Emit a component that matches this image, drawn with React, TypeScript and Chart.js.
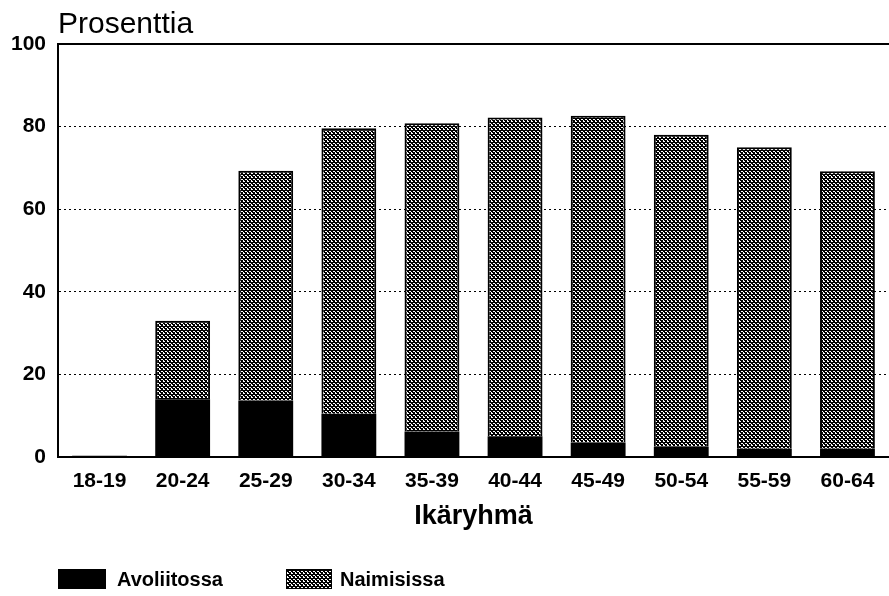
import React, { useEffect, useRef } from "react";
import { Chart, registerables } from "chart.js";

Chart.register(...registerables);

const categories = ["18-19", "20-24", "25-29", "30-34", "35-39", "40-44", "45-49", "50-54", "55-59", "60-64"];
const avoliitossa = [0.3, 14, 13.7, 10.5, 6.2, 5, 3.5, 2.5, 2, 2];
const naimisissa = [0, 19, 55.6, 69.1, 74.6, 77.2, 79.1, 75.5, 73, 67.2];
const yTicks = [0, 20, 40, 60, 80, 100];
const yTitle = "Prosenttia";
const xTitle = "Ikäryhmä";
const seriesNames = ["Avoliitossa", "Naimisissa"];

const FONT = "'Liberation Sans', Arial, Helvetica, sans-serif";

function makePattern(): CanvasPattern | string {
  const c = document.createElement("canvas");
  c.width = 4;
  c.height = 4;
  const p = c.getContext("2d");
  if (!p) return "#666";
  p.fillStyle = "#fff";
  p.fillRect(0, 0, 4, 4);
  p.fillStyle = "#000";
  for (let y = 0; y < 4; y++) {
    for (let x = 0; x < 4; x++) {
      const d = (x - y + 8) % 4;
      if (d === 0 || d === 1 || (d === 2 && x % 2 === 0) || (d === 3 && x % 4 === 1)) p.fillRect(x, y, 1, 1);
    }
  }
  const pat = p.createPattern(c, "repeat");
  return pat || "#666";
}

export default function App() {
  const ref = useRef<HTMLCanvasElement | null>(null);

  useEffect(() => {
    const canvas = ref.current;
    if (!canvas) return;
    const pattern = makePattern();

    const overlay = {
      id: "overlay",
      afterDraw(chart: any) {
        const { ctx, chartArea } = chart;
        ctx.save();
        ctx.strokeStyle = "#000";
        ctx.lineWidth = 2;
        ctx.beginPath();
        ctx.moveTo(chartArea.left - 1, chartArea.top);
        ctx.lineTo(chartArea.right, chartArea.top);
        ctx.stroke();
        ctx.fillStyle = "#000";
        ctx.font = `30px ${FONT}`;
        ctx.textAlign = "left";
        ctx.textBaseline = "alphabetic";
        ctx.fillText(yTitle, 58, 33);
        ctx.fillStyle = "#000";
        ctx.fillRect(58, 569, 48, 20);
        ctx.fillStyle = pattern as any;
        ctx.fillRect(286, 569, 46, 20);
        ctx.strokeStyle = "#000";
        ctx.lineWidth = 1;
        ctx.strokeRect(286.5, 569.5, 45, 19);
        ctx.fillStyle = "#000";
        ctx.font = `bold 20px ${FONT}`;
        ctx.textBaseline = "middle";
        ctx.fillText(seriesNames[0], 117, 580);
        ctx.fillText(seriesNames[1], 340, 580);
        ctx.restore();
      },
    };

    const chart = new Chart(canvas, {
      type: "bar",
      data: {
        labels: categories,
        datasets: [
          {
            label: seriesNames[0],
            data: avoliitossa,
            backgroundColor: "#000",
            borderColor: "#000",
            borderWidth: 0,
            barPercentage: 0.66,
            categoryPercentage: 1,
          },
          {
            label: seriesNames[1],
            data: naimisissa,
            backgroundColor: pattern as any,
            borderColor: "#000",
            borderWidth: 2,
            barPercentage: 0.66,
            categoryPercentage: 1,
          },
        ],
      },
      options: {
        animation: false,
        responsive: false,
        maintainAspectRatio: false,
        layout: { padding: { top: 44, left: 0, right: 0, bottom: 0 } },
        plugins: {
          legend: { display: false },
          title: { display: false },
          tooltip: { enabled: false },
        },
        scales: {
          x: {
            stacked: true,
            grid: { display: false, drawTicks: false },
            border: { display: true, color: "#000", width: 2 },
            ticks: {
              color: "#000",
              font: { family: FONT, size: 21, weight: "bold" },
              padding: 12,
              maxRotation: 0,
              autoSkip: false,
            },
            title: {
              display: true,
              text: xTitle,
              color: "#000",
              font: { family: FONT, size: 27, weight: "bold" },
              padding: { top: 0, bottom: 63 },
            },
            afterFit(scale: any) {
              scale.height = 139;
            },
          },
          y: {
            stacked: true,
            min: 0,
            max: 100,
            afterBuildTicks(scale: any) {
              scale.ticks = yTicks.map((v) => ({ value: v }));
            },
            grid: {
              drawTicks: false,
              color: (c: any) => (c.tick && (c.tick.value === 0 || c.tick.value === 100) ? "rgba(0,0,0,0)" : "#000"),
              lineWidth: 1,
            },
            border: { display: true, color: "#000", width: 2, dash: [2, 3] },
            ticks: {
              color: "#000",
              font: { family: FONT, size: 21, weight: "bold" },
              padding: 12,
            },
            afterFit(scale: any) {
              scale.width = 58;
            },
          },
        },
      },
      plugins: [overlay],
    });

    return () => chart.destroy();
  }, []);

  return (
    <div style={{ position: "fixed", left: 0, top: 0, width: 889, height: 596, background: "#fff" }}>
      <canvas ref={ref} width={889} height={596} style={{ width: 889, height: 596, display: "block" }} />
    </div>
  );
}
